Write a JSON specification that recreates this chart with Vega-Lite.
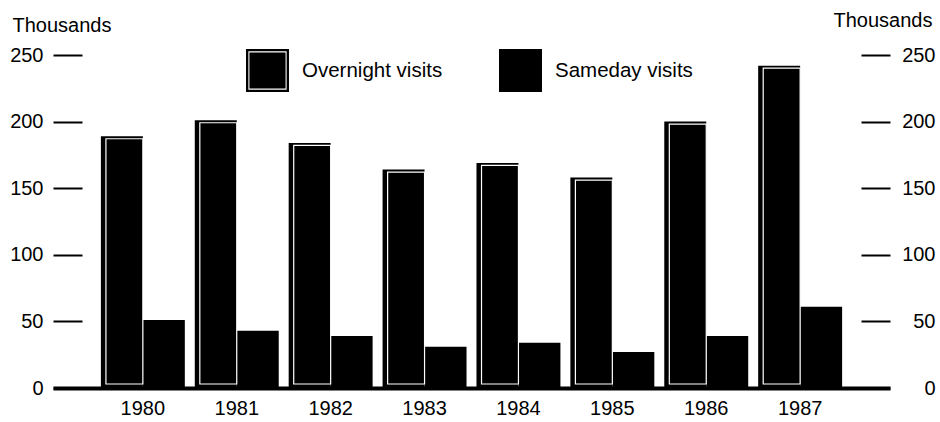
{
  "$schema": "https://vega.github.io/schema/vega-lite/v6.json",
  "width": 837,
  "height": 333,
  "autosize": "none",
  "padding": {"left": 53, "top": 55, "right": 50, "bottom": 34},
  "background": "white",
  "config": {
    "view": {"stroke": null},
    "font": "Liberation Sans",
    "axis": {"labelFont": "Liberation Sans", "titleFont": "Liberation Sans", "labelColor": "black", "titleColor": "black", "grid": false}
  },
  "data": {
    "values": [
      {"year": "1980", "type": "Overnight visits", "value": 189},
      {"year": "1980", "type": "Sameday visits", "value": 51},
      {"year": "1981", "type": "Overnight visits", "value": 201},
      {"year": "1981", "type": "Sameday visits", "value": 43},
      {"year": "1982", "type": "Overnight visits", "value": 184},
      {"year": "1982", "type": "Sameday visits", "value": 39},
      {"year": "1983", "type": "Overnight visits", "value": 164},
      {"year": "1983", "type": "Sameday visits", "value": 31},
      {"year": "1984", "type": "Overnight visits", "value": 169},
      {"year": "1984", "type": "Sameday visits", "value": 34},
      {"year": "1985", "type": "Overnight visits", "value": 158},
      {"year": "1985", "type": "Sameday visits", "value": 27},
      {"year": "1986", "type": "Overnight visits", "value": 200},
      {"year": "1986", "type": "Sameday visits", "value": 39},
      {"year": "1987", "type": "Overnight visits", "value": 242},
      {"year": "1987", "type": "Sameday visits", "value": 61}
    ]
  },
  "encoding": {
    "x": {
      "field": "year", "type": "nominal",
      "scale": {"paddingInner": 0.106, "paddingOuter": 0.51},
      "axis": {"title": null, "labelAngle": 0, "labelFontSize": 20, "labelPadding": 10, "ticks": false, "domain": true, "domainWidth": 4, "domainColor": "black", "zindex": 1}
    },
    "xOffset": {"field": "type", "type": "nominal", "scale": {"paddingInner": 0, "paddingOuter": 0}}
  },
  "layer": [
    {
      "mark": {"type": "bar", "fill": "black", "strokeWidth": 0},
      "encoding": {
        "y": {
          "field": "value", "type": "quantitative",
          "scale": {"domain": [0, 250], "nice": false},
          "axis": {"orient": "left", "values": [0, 50, 100, 150, 200, 250], "domain": false, "tickSize": -29, "tickWidth": 2, "tickColor": "black", "labelFontSize": 20, "labelPadding": 39, "labelAlign": "right", "labelBaseline": "middle",
                   "title": "Thousands", "titleAngle": 0, "titleFontSize": 20, "titleFontWeight": "normal", "titleAlign": "left", "titleBaseline": "middle", "titleX": -41, "titleY": -30}
        },
        "color": {
          "field": "type", "type": "nominal",
          "scale": {"range": ["black", "black"]},
          "legend": {
            "title": null, "orient": "none", "legendX": 193, "legendY": -6, "direction": "horizontal",
            "symbolSize": 1849, "symbolType": "square", "symbolStrokeWidth": 0, "symbolFillColor": "black",
            "labelFontSize": 20.5, "labelFont": "Liberation Sans", "labelColor": "black", "labelOffset": 13, "columnPadding": 56, "padding": 0,
            "encode": {"symbols": {"update": {"shape": {"signal": "datum.value === 'Overnight visits' ? 'M-1,-1L1,-1L1,1L-1,1Z M-0.89,-0.89L-0.89,0.89L0.89,0.89L0.89,-0.89Z M-0.84,-0.84L0.84,-0.84L0.84,0.84L-0.84,0.84Z' : 'square'"}, "fill": {"value": "black"}, "strokeWidth": {"value": 0}}}}
          }
        }
      }
    },
    {
      "transform": [{"filter": "datum.type === 'Overnight visits'"}],
      "mark": {"type": "bar", "fill": null, "fillOpacity": 0, "stroke": "white", "strokeWidth": 1.2, "width": {"band": 0.88}, "yOffset": 2.5, "y2Offset": -4},
      "encoding": {
        "y": {
          "field": "value", "type": "quantitative",
          "axis": {"orient": "right", "values": [0, 50, 100, 150, 200, 250], "domain": false, "tickSize": -29, "tickWidth": 2, "tickColor": "black", "labelFontSize": 20, "labelPadding": 74, "labelAlign": "right", "labelBaseline": "middle",
                   "title": "Thousands", "titleAngle": 0, "titleFontSize": 20, "titleFontWeight": "normal", "titleAlign": "right", "titleBaseline": "middle", "titleX": 42, "titleY": -35}
        },
        "y2": {"datum": 0}
      }
    }
  ],
  "resolve": {"axis": {"y": "independent"}}
}
